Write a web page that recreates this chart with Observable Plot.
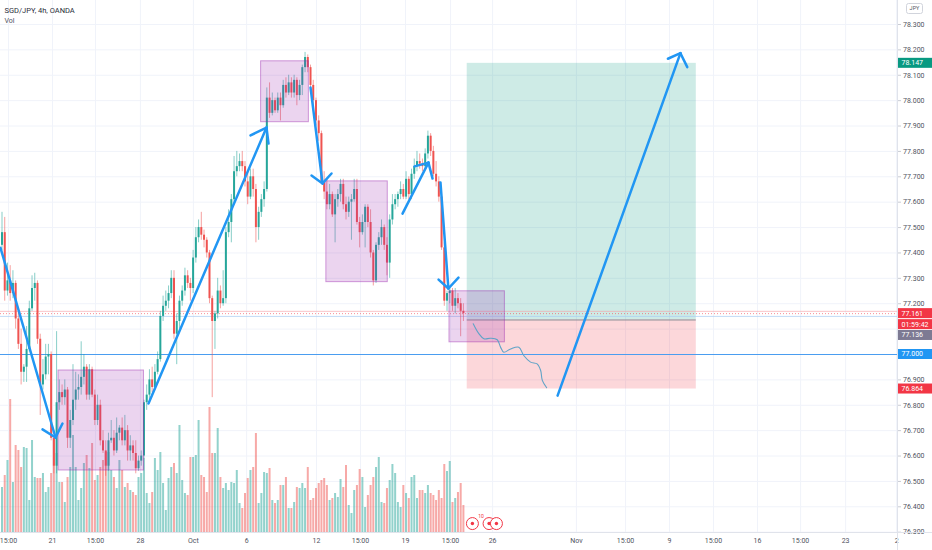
<!DOCTYPE html>
<html>
<head>
<meta charset="utf-8">
<script src="https://cdn.jsdelivr.net/npm/d3@7"></script>
<script src="https://cdn.jsdelivr.net/npm/@observablehq/plot@0.6"></script>
<style>
  html, body { margin: 0; padding: 0; background: #ffffff; }
  #chart { width: 932px; height: 550px; overflow: hidden; }
</style>
</head>
<body>
<div id="chart"></div>
<script>
// ---------------- DATA (SGD/JPY 4h, OANDA) ----------------
const opens = [
77.43,77.48,77.25,77.29,77.24,77.28,77.14,77.04,76.93,76.95,
77.02,77.18,77.26,77.28,77.06,76.88,76.92,76.99,77.00,76.67,
76.56,76.81,76.85,76.83,76.86,76.67,76.74,76.82,76.86,76.87,
76.91,76.95,76.84,76.94,76.84,76.74,76.80,76.66,76.62,76.56,
76.66,76.67,76.62,76.69,76.71,76.66,76.70,76.62,76.64,76.61,
76.55,76.58,76.60,76.81,76.84,76.90,76.87,76.93,76.98,77.15,
77.19,77.21,77.24,77.30,77.08,77.13,77.21,77.25,77.31,77.28,
77.26,77.38,77.46,77.50,77.47,77.45,77.40,77.22,77.13,77.16,
77.25,77.20,77.22,77.48,77.52,77.61,77.72,77.74,77.76,77.74,
77.68,77.62,77.70,77.65,77.50,77.56,77.61,77.65,78.01,77.95,
78.00,77.96,78.01,77.98,78.06,78.03,78.07,78.03,78.08,78.02,
78.06,78.13,78.17,78.13,78.06,78.00,77.92,77.87,77.68,77.64,
77.59,77.63,77.55,77.61,77.63,77.67,77.59,77.56,77.60,77.61,
77.65,77.52,77.48,77.52,77.58,77.52,77.40,77.29,77.43,77.46,
77.50,77.43,77.36,77.53,77.59,77.61,77.63,77.65,77.62,77.69,
77.63,77.71,77.74,77.76,77.75,77.74,77.79,77.86,77.80,77.71,
77.68,77.62,77.42,77.21,77.24,77.25,77.19,77.22,77.20,77.17];
const highs = [
77.56,77.54,77.36,77.35,77.33,77.29,77.17,77.10,76.96,77.11,
77.21,77.31,77.32,77.29,77.08,76.98,77.04,77.04,77.01,76.68,
77.09,76.90,76.88,76.90,76.87,76.78,76.96,76.93,76.92,77.05,
77.00,76.96,76.96,76.95,76.86,76.84,76.82,76.70,76.66,76.69,
76.74,76.70,76.75,76.72,76.75,76.76,76.72,76.68,76.66,76.66,
76.60,76.62,76.82,76.88,76.94,76.95,76.96,77.01,77.17,77.23,
77.25,77.27,77.33,77.33,77.16,77.23,77.27,77.34,77.33,77.30,
77.41,77.50,77.53,77.56,77.49,77.46,77.41,77.23,77.17,77.30,
77.27,77.33,77.50,77.57,77.63,77.78,77.80,77.79,77.80,77.76,
77.72,77.73,77.73,77.67,77.58,77.63,77.68,78.05,78.07,78.03,
78.01,78.03,78.03,78.08,78.09,78.10,78.09,78.10,78.09,78.08,
78.14,78.19,78.18,78.14,78.08,78.01,77.94,77.88,77.72,77.69,
77.67,77.64,77.63,77.65,77.69,77.69,77.62,77.62,77.63,77.69,
77.69,77.54,77.55,77.59,77.59,77.57,77.41,77.44,77.48,77.53,
77.51,77.46,77.55,77.63,77.63,77.64,77.68,77.67,77.72,77.70,
77.73,77.77,77.80,77.79,77.77,77.81,77.88,77.87,77.82,77.76,
77.70,77.63,77.44,77.25,77.27,77.26,77.26,77.24,77.22,77.20];
const lows = [
77.41,77.21,77.23,77.21,77.22,77.10,77.02,76.88,76.89,76.89,
77.01,77.17,77.21,77.04,76.76,76.86,76.90,76.92,76.66,76.53,
76.53,76.78,76.80,76.80,76.63,76.63,76.72,76.78,76.82,76.84,
76.88,76.82,76.82,76.83,76.72,76.72,76.64,76.61,76.52,76.54,
76.65,76.60,76.61,76.66,76.64,76.64,76.58,76.58,76.58,76.53,
76.54,76.56,76.59,76.78,76.82,76.85,76.86,76.92,76.97,77.13,
77.17,77.18,77.22,77.06,76.96,77.10,77.19,77.23,77.26,77.21,
77.24,77.36,77.44,77.45,77.42,77.38,77.20,76.83,77.02,77.14,
77.18,77.19,77.20,77.46,77.44,77.60,77.70,77.72,77.72,77.66,
77.59,77.61,77.62,77.44,77.45,77.54,77.58,77.64,77.93,77.94,
77.95,77.95,77.92,77.97,78.01,78.02,78.01,78.01,77.98,78.00,
78.02,78.11,78.11,78.04,77.96,77.90,77.84,77.67,77.61,77.57,
77.57,77.54,77.44,77.58,77.60,77.57,77.53,77.54,77.45,77.60,
77.51,77.42,77.47,77.42,77.50,77.38,77.27,77.28,77.41,77.43,
77.41,77.31,77.30,77.51,77.57,77.58,77.61,77.61,77.61,77.61,
77.61,77.69,77.72,77.73,77.72,77.73,77.77,77.78,77.70,77.66,
77.60,77.41,77.19,77.17,77.20,77.17,77.16,77.18,77.07,77.13];
const closes = [
77.48,77.25,77.29,77.24,77.28,77.14,77.04,76.93,76.95,77.02,
77.18,77.26,77.28,77.06,76.88,76.92,76.99,77.00,76.67,76.56,
76.81,76.85,76.83,76.86,76.67,76.74,76.82,76.86,76.87,76.91,
76.95,76.84,76.94,76.84,76.74,76.80,76.66,76.62,76.56,76.66,
76.67,76.62,76.69,76.71,76.66,76.70,76.62,76.64,76.61,76.55,
76.58,76.60,76.81,76.84,76.90,76.87,76.93,76.98,77.15,77.19,
77.21,77.24,77.30,77.08,77.13,77.21,77.25,77.31,77.28,77.26,
77.38,77.46,77.50,77.47,77.45,77.40,77.22,77.13,77.16,77.25,
77.20,77.22,77.48,77.52,77.61,77.72,77.74,77.76,77.74,77.68,
77.62,77.70,77.65,77.50,77.56,77.61,77.65,78.01,77.95,78.00,
77.96,78.01,77.98,78.06,78.03,78.07,78.03,78.08,78.02,78.06,
78.13,78.17,78.13,78.06,78.00,77.92,77.87,77.68,77.64,77.59,
77.63,77.55,77.61,77.63,77.67,77.59,77.56,77.60,77.61,77.65,
77.52,77.48,77.52,77.58,77.52,77.40,77.29,77.43,77.46,77.50,
77.43,77.36,77.53,77.59,77.61,77.63,77.65,77.62,77.69,77.63,
77.71,77.74,77.76,77.75,77.74,77.79,77.86,77.80,77.71,77.68,
77.62,77.42,77.21,77.24,77.25,77.19,77.22,77.20,77.17,77.161];
const volumes = [
45,57,72,133,50,87,82,65,85,84,32,92,55,54,54,59,40,45,59,94,
79,50,50,30,55,65,97,65,32,44,69,77,64,89,52,57,65,72,80,80,62,55,
44,72,62,45,49,42,40,37,55,59,74,39,29,40,74,62,80,49,22,54,65,69,59,107,
52,39,37,75,75,77,112,57,55,40,125,79,79,104,55,44,49,42,50,49,
62,29,24,39,54,62,65,99,29,39,60,59,64,32,29,32,47,47,55,24,24,30,45,44,49,
44,65,32,34,44,49,52,54,47,32,34,39,35,53,45,67,27,19,
42,47,63,55,25,37,47,55,65,75,30,29,44,52,68,59,30,25,47,39,34,55,57,34,42,
42,39,47,39,37,32,42,34,68,61,71,30,34,40,49,27];

// price-axis ticks
const yTickValues = [78.3,78.2,78.1,78.0,77.9,77.8,77.7,77.6,77.5,77.4,77.3,
                     77.2,77.1,77.0,76.9,76.8,76.7,76.6,76.5,76.4,76.3];
// time-axis ticks (bar index) and labels
const xTickPos = [2.38,18.5,34.25,50.7,70.1,89.6,115.2,131.3,147.8,164.3,179.7,
                  210.4,228.4,244.5,260.6,276.7,292.5,309.0,327.7];
const xTickLabels = ["15:00","21","15:00","28","Oct","6","12","15:00","19","15:00","26",
                     "Nov","15:00","9","15:00","16","15:00","23","2"];

// drawings (bar index, price)
const boxX1 = [20.7, 94.9, 118.8, 163.9];
const boxX2 = [52.0, 112.4, 141.3, 184.2];
const boxTop = [76.937, 78.155, 77.682, 77.249];
const boxBottom = [76.543, 77.915, 77.285, 77.048];

const positionX = [170.4, 254.3];
const entryPrice = 77.136, targetPrice = 78.147, stopPrice = 76.864;
const lastPrice = 77.161;
const hLinePrice = 77.000;

const arrowStart = [[-0.55,77.42],[53.66,76.807],[113.0,78.052],[146.7,77.555],[160.6,77.678],[203.5,76.838]];
const arrowEnd   = [[19.6,76.673],[96.89,77.894],[117.4,77.674],[156.2,77.756],[163.5,77.26],[248.5,78.187]];
const arrowLegA  = [[14.84,76.705],[91.03,77.863],[113.37,77.705],[151.1,77.741],[159.9,77.295],[243.9,78.165]];
const arrowLegB  = [[22.16,76.728],[97.62,77.831],[120.7,77.713],[157.7,77.693],[167.2,77.303],[251.0,78.132]];

const waveX = [172.6,174.65,176.5,178.9,181.4,182.6,183.8,186.3,189.3,191.1,193.6,196.0,197.3,197.9,199.5];
const waveY = [77.121,77.082,77.062,77.064,77.058,77.029,77.009,77.022,77.029,76.996,76.970,76.963,76.937,76.898,76.869];

const eventX = [172.3, 178.4, 181.1];
const eventPrice = 76.334;

const priceLabelValues = [78.147, 77.161, 77.161, 77.136, 77.000, 76.864];
const priceLabelTexts = ["78.147", "77.161", "01:59:42", "77.136", "77.000", "76.864"];

// ---------------- BUILD ----------------
const FONT = "Roboto, 'Liberation Sans', sans-serif";
const UP = "#26a69a", DOWN = "#ef5350";
const yMin = 76.2988, yMax = 78.3945;
const xMin = -0.55, xMax = 328.0;
const W = 932, H = 550, MR = 35, MB = 18;
const volPaneSpan = 0.524; // price-span of the tallest volume bar
const volUnit = volPaneSpan / d3.max(volumes);

const labelColors = ["#089981", "#f23645", "#f23645", "#7d7a93", "#2196f3", "#f23645"];
const labelShift = [0, 0, 11, 15.5, 0, 0];

// y scale (same definition as the plot) to know which tick labels the price boxes cover
const yScale = Plot.scale({y: {domain: [yMin, yMax], range: [H - MB, 0]}});
const labelCenters = priceLabelValues.map((v, k) => yScale.apply(v) + labelShift[k]);
const yAxisTicks = yTickValues.filter(t => labelCenters.every(c => Math.abs(yScale.apply(t) - c) > 8.5));

const candles = closes.map((c, i) => ({
  i, o: opens[i], h: highs[i], l: lows[i], c, v: volumes[i], up: c >= opens[i]
}));
const boxes = boxX1.map((x1, k) => ({x1, x2: boxX2[k], y1: boxBottom[k], y2: boxTop[k]}));
const segs = [];
arrowStart.forEach((s, k) => {
  const e = arrowEnd[k];
  segs.push({x1: s[0], y1: s[1], x2: e[0], y2: e[1]});
  segs.push({x1: arrowLegA[k][0], y1: arrowLegA[k][1], x2: e[0], y2: e[1]});
  segs.push({x1: e[0], y1: e[1], x2: arrowLegB[k][0], y2: arrowLegB[k][1]});
});
const wave = waveX.map((x, k) => ({x, y: waveY[k]}));
const events = eventX.map(x => ({x, y: eventPrice}));
const xLabelAt = new Map(xTickPos.map((p, k) => [p, xTickLabels[k]]));

const plot = Plot.plot({
  width: W, height: H,
  marginLeft: 0, marginRight: MR, marginTop: 0, marginBottom: MB,
  x: {domain: [xMin, xMax]},
  y: {domain: [yMin, yMax]},
  color: {type: "identity"},
  style: {fontFamily: FONT, background: "#ffffff", overflow: "visible"},
  marks: [
    Plot.gridY(yTickValues, {stroke: "#f0f3fa", strokeOpacity: 1}),
    Plot.gridX(xTickPos, {stroke: "#f0f3fa", strokeOpacity: 1}),
    // long-position tool
    Plot.rect([0], {x1: positionX[0], x2: positionX[1], y1: entryPrice, y2: targetPrice, fill: "#089981", fillOpacity: 0.2}),
    Plot.rect([0], {x1: positionX[0], x2: positionX[1], y1: stopPrice, y2: entryPrice, fill: "#f23645", fillOpacity: 0.2}),
    // volume
    Plot.ruleX(candles, {x: "i", y1: yMin, y2: d => yMin + d.v * volUnit,
      stroke: d => d.up ? UP : DOWN, strokeOpacity: 0.5, strokeWidth: 2}),
    // price lines
    Plot.ruleY([lastPrice + 0.009], {stroke: "#f7a1a6", strokeWidth: 0.8, strokeOpacity: 0.8}),
    Plot.ruleY([lastPrice], {stroke: "#f23645", strokeWidth: 0.8, strokeDasharray: "1,2", strokeOpacity: 0.7}),
    Plot.ruleY([lastPrice - 0.011], {stroke: "#a9cdf2", strokeWidth: 0.8, strokeOpacity: 0.9}),
    Plot.ruleY([hLinePrice], {stroke: "#4a9df0", strokeWidth: 1.2}),
    Plot.ruleY([entryPrice], {x1: positionX[0], x2: positionX[1], stroke: "#8a8d96", strokeWidth: 1}),
    // candles
    Plot.ruleX(candles, {x: "i", y1: "l", y2: "h", stroke: d => d.up ? UP : DOWN, strokeOpacity: 0.55, strokeWidth: 1}),
    Plot.ruleX(candles, {x: "i", y1: "o", y2: d => (d.c === d.o ? d.o + 0.004 : d.c),
      stroke: d => d.up ? UP : DOWN, strokeWidth: 2}),
    // purple rectangles
    Plot.rect(boxes, {x1: "x1", x2: "x2", y1: "y1", y2: "y2", fill: "#9c27b0", fillOpacity: 0.2,
      stroke: "#9c27b0", strokeOpacity: 0.45, strokeWidth: 1}),
    // wavy projection
    Plot.line(wave, {x: "x", y: "y", curve: "catmull-rom", stroke: "#5fa3c7", strokeWidth: 1.1}),
    // arrows
    Plot.link(segs, {x1: "x1", y1: "y1", x2: "x2", y2: "y2", stroke: "#2196f3", strokeWidth: 2.5, strokeLinecap: "round"}),
    // event markers
    Plot.dot(events, {x: "x", y: "y", r: 6, stroke: "#f23645", fill: "#ffffff", strokeWidth: 1}),
    Plot.dot(events, {x: "x", y: "y", r: 1.7, fill: "#f23645"}),
    Plot.text(["10"], {x: eventX[0] + 2.1, y: eventPrice + 0.028, fontSize: 5, fill: "#f23645", textAnchor: "start"}),
    // frame lines
    Plot.ruleY([yMin], {stroke: "#e0e3eb"}),
    Plot.ruleX([xMax], {stroke: "#e0e3eb"}),
    // axes
    Plot.axisY(yAxisTicks, {anchor: "right", tickFormat: d => d.toFixed(3), tickSize: 3, tickPadding: 2.5,
      fontSize: 7, color: "#50535e", stroke: "#c9ccd4", label: null}),
    Plot.axisX(xTickPos, {anchor: "bottom", tickFormat: d => xLabelAt.get(d), tickSize: 0, tickPadding: 6,
      fontSize: 7, color: "#50535e", label: null}),
    // header
    Plot.text(["SGD/JPY, 4h, OANDA"], {frameAnchor: "top-left", dx: 4, dy: 10, textAnchor: "start",
      lineAnchor: "middle", fontSize: 7.5, fill: "#2a2e39"}),
    Plot.text(["Vol"], {frameAnchor: "top-left", dx: 4, dy: 20, textAnchor: "start",
      lineAnchor: "middle", fontSize: 7, fill: "#50535e"})
  ]
});

document.getElementById("chart").appendChild(plot);

// ---------------- price-scale labels (positioned with Plot's y scale) ----------------
const ys = plot.scale("y");
const svg = d3.select(plot);
const ov = svg.append("g").attr("font-family", FONT).attr("font-size", 7).attr("text-anchor", "start");
ov.append("line").attr("x1", 897.5).attr("x2", 897.5).attr("y1", 532).attr("y2", 550).attr("stroke", "#e0e3eb");
ov.append("line").attr("x1", 897.5).attr("x2", 932).attr("y1", 532.5).attr("y2", 532.5).attr("stroke", "#e0e3eb");
priceLabelValues.forEach((v, k) => {
  const yc = ys.apply(v) + labelShift[k];
  ov.append("rect").attr("x", 898).attr("y", yc - 5).attr("width", 34).attr("height", 10)
    .attr("fill", labelColors[k]);
  ov.append("text").attr("x", 901.5).attr("y", yc).attr("dy", "0.35em").attr("text-anchor", "start")
    .attr("fill", "#ffffff").text(priceLabelTexts[k]);
});
// currency button
ov.append("rect").attr("x", 906.5).attr("y", 3.5).attr("width", 16).attr("height", 10).attr("rx", 2)
  .attr("fill", "#ffffff").attr("stroke", "#d1d4dc");
ov.append("text").attr("x", 914.5).attr("y", 8.5).attr("dy", "0.35em").attr("text-anchor", "middle")
  .attr("font-size", 5.5).attr("fill", "#50535e").text("JPY");
</script>
</body>
</html>
